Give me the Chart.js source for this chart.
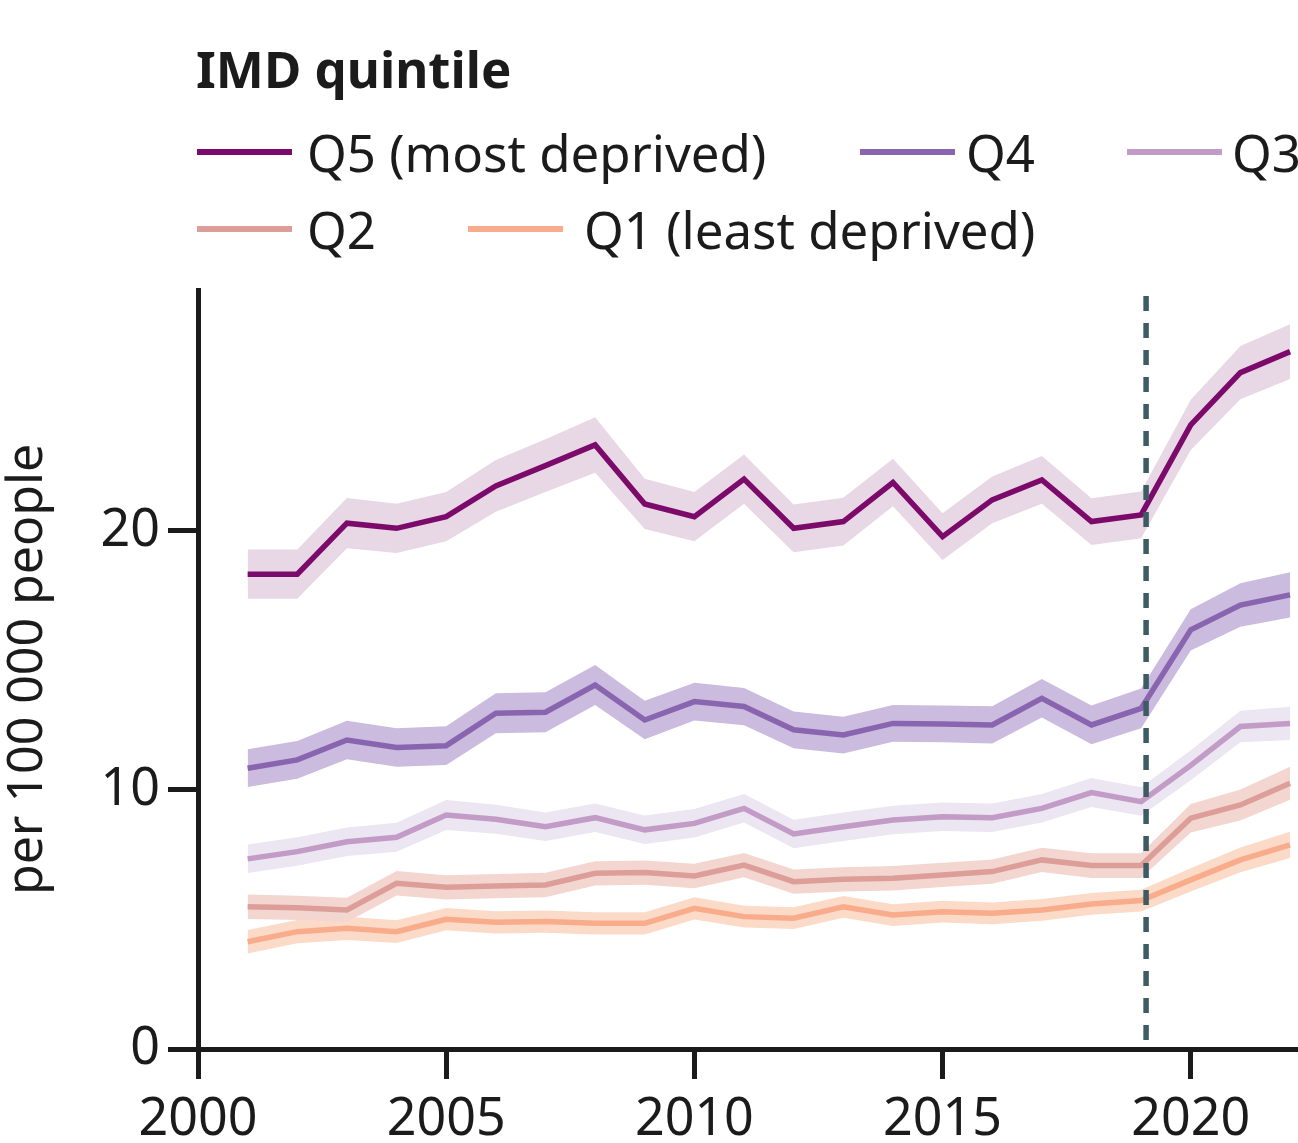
<!DOCTYPE html>
<html>
<head>
<meta charset="utf-8">
<title>IMD quintile</title>
<script src="https://cdn.jsdelivr.net/npm/chart.js@4.4.1/dist/chart.umd.min.js"></script>
<style>
    html, body { margin: 0; padding: 0; background: #fff; }
    #wrap { position: relative; width: 1298px; height: 1143px; }
</style>
</head>
<body>
<div id="wrap"><canvas id="chart"></canvas></div>
<script>
// Values (per 100 000 people)
const years = [2001, 2002, 2003, 2004, 2005, 2006, 2007, 2008, 2009, 2010, 2011,
               2012, 2013, 2014, 2015, 2016, 2017, 2018, 2019, 2020, 2021, 2022];

const q5 = [18.33, 18.33, 20.3, 20.1, 20.55, 21.74, 22.52, 23.32, 21.04, 20.55, 22.0,
            20.1, 20.36, 21.87, 19.78, 21.2, 21.97, 20.36, 20.62, 24.09, 26.11, 26.92];
const q4 = [10.84, 11.16, 11.93, 11.64, 11.71, 12.96, 13.0, 14.05, 12.7, 13.41, 13.22,
            12.32, 12.12, 12.57, 12.55, 12.51, 13.54, 12.51, 13.15, 16.18, 17.14, 17.53];
const q3 = [7.34, 7.62, 8.0, 8.17, 9.03, 8.87, 8.58, 8.93, 8.46, 8.71, 9.29,
            8.3, 8.58, 8.84, 8.97, 8.93, 9.29, 9.9, 9.55, 10.95, 12.45, 12.57];
const q2 = [5.49, 5.45, 5.37, 6.4, 6.24, 6.29, 6.33, 6.78, 6.81, 6.68, 7.1,
            6.46, 6.55, 6.59, 6.72, 6.85, 7.3, 7.08, 7.08, 8.91, 9.42, 10.26];
const q1 = [4.14, 4.53, 4.66, 4.53, 5.01, 4.89, 4.92, 4.85, 4.85, 5.43, 5.11,
            5.05, 5.49, 5.17, 5.3, 5.24, 5.37, 5.6, 5.73, 6.53, 7.3, 7.88];

// Half-width of the shaded interval round each line
const q5Ci = [0.95, 0.95, 0.97, 0.95, 0.95, 1.0, 1.02, 1.07, 0.97, 0.95, 0.95,
              0.92, 0.92, 0.92, 0.9, 0.9, 0.92, 0.9, 0.9, 0.97, 1.03, 1.06];
const q4Ci = [0.73, 0.73, 0.74, 0.74, 0.75, 0.77, 0.77, 0.77, 0.74, 0.73, 0.72,
              0.71, 0.71, 0.71, 0.71, 0.72, 0.74, 0.75, 0.77, 0.8, 0.84, 0.87];
const q3Ci = [0.55, 0.55, 0.55, 0.56, 0.58, 0.56, 0.55, 0.55, 0.55, 0.55, 0.55,
              0.55, 0.55, 0.55, 0.55, 0.55, 0.55, 0.56, 0.55, 0.58, 0.61, 0.64];
const q2Ci = [0.47, 0.47, 0.47, 0.47, 0.47, 0.47, 0.47, 0.47, 0.47, 0.47, 0.47,
              0.47, 0.47, 0.47, 0.47, 0.47, 0.47, 0.48, 0.48, 0.55, 0.6, 0.64];
const q1Ci = [0.45, 0.45, 0.45, 0.44, 0.43, 0.43, 0.43, 0.43, 0.43, 0.43, 0.42,
              0.42, 0.42, 0.42, 0.42, 0.42, 0.42, 0.42, 0.42, 0.45, 0.48, 0.51];

const quintileLabels = ['Q5 (most deprived)', 'Q4', 'Q3', 'Q2', 'Q1 (least deprived)'];
const legendTitle = 'IMD quintile';
const yTitle = 'per 100 000 people';
const xTicks = [2000, 2005, 2010, 2015, 2020];
const yTicks = [0, 10, 20];
const dashedLineX = 2019.1;

const ink = '#1b1b1b';
const lineColours = ['#7b0a6b', '#8a65af', '#c29bc6', '#dd9e99', '#f8ac8b'];
const bandColours = ['#e8d7e5', '#cbbbdf', '#ebe6f2', '#f4d6d1', '#fcdac8'];
const FONT = "'Noto Sans', 'DejaVu Sans', sans-serif";

Chart.defaults.font.family = FONT;
Chart.defaults.color = ink;

const series = [q5, q4, q3, q2, q1];
const cis = [q5Ci, q4Ci, q3Ci, q2Ci, q1Ci];

const toPoints = arr => years.map((x, i) => ({ x: x, y: arr[i] }));

const datasets = [];
series.forEach((vals, s) => {
    const lower = vals.map((v, i) => v - cis[s][i]);
    const upper = vals.map((v, i) => v + cis[s][i]);
    datasets.push({
        label: quintileLabels[s] + ' lower',
        data: toPoints(lower),
        borderWidth: 0,
        pointRadius: 0,
        fill: false,
        order: 3
    });
    datasets.push({
        label: quintileLabels[s] + ' upper',
        data: toPoints(upper),
        borderWidth: 0,
        pointRadius: 0,
        backgroundColor: bandColours[s],
        fill: '-1',
        order: 3
    });
});
series.forEach((vals, s) => {
    datasets.push({
        label: quintileLabels[s],
        data: toPoints(vals),
        borderColor: lineColours[s],
        borderWidth: 5.5,
        borderJoinStyle: 'miter',
        pointRadius: 0,
        fill: false,
        order: 2
    });
});
// vertical dashed marker
datasets.push({
    label: 'marker',
    data: [{ x: dashedLineX, y: 0.35 }, { x: dashedLineX, y: 29.3 }],
    borderColor: '#3d5b62',
    borderWidth: 5.5,
    borderDash: [15, 12],
    borderCapStyle: 'butt',
    pointRadius: 0,
    fill: false,
    order: 1
});

// Legend drawn by hand so the rows match the figure
const imdLegend = {
    id: 'imdLegend',
    afterDraw(chart) {
        const ctx = chart.ctx;
        // [sample x, text x, row y]
        const slots = [[197, 307, 152], [860, 966, 152], [1127, 1232, 152],
                       [197, 307, 229], [468, 584, 229]];
        ctx.save();
        ctx.fillStyle = ink;
        ctx.textBaseline = 'alphabetic';
        ctx.textAlign = 'left';
        ctx.font = 'bold 51px ' + FONT;
        ctx.fillText(legendTitle, 196, 88);
        ctx.font = '51px ' + FONT;
        quintileLabels.forEach((label, i) => {
            const [sx, tx, y] = slots[i];
            ctx.strokeStyle = lineColours[i];
            ctx.lineWidth = 6;
            ctx.beginPath();
            ctx.moveTo(sx, y);
            ctx.lineTo(sx + 95, y);
            ctx.stroke();
            ctx.fillText(label, tx, y + 20);
        });
        ctx.restore();
    }
};

new Chart(document.getElementById('chart'), {
    type: 'line',
    data: { datasets: datasets },
    options: {
        responsive: true,
        maintainAspectRatio: false,
        animation: false,
        layout: { padding: { top: 290, right: 3, left: 0, bottom: 0 } },
        plugins: {
            legend: { display: false },
            tooltip: { enabled: false }
        },
        scales: {
            x: {
                type: 'linear',
                min: 2000,
                max: 2022.1,
                afterBuildTicks: scale => { scale.ticks = xTicks.map(v => ({ value: v })); },
                afterFit: scale => { scale.height = 94; },
                border: { display: true, color: ink, width: 5 },
                grid: { drawOnChartArea: false, drawTicks: true, tickLength: 30, lineWidth: 5, color: ink },
                ticks: {
                    callback: v => String(v),
                    font: { size: 52 },
                    color: ink,
                    padding: 10,
                    maxRotation: 0,
                    autoSkip: false
                }
            },
            y: {
                min: 0,
                max: 29.3,
                afterBuildTicks: scale => { scale.ticks = yTicks.map(v => ({ value: v })); },
                afterFit: scale => { scale.width = 198; },
                border: { display: true, color: ink, width: 5 },
                grid: { drawOnChartArea: false, drawTicks: true, tickLength: 30, lineWidth: 5, color: ink },
                ticks: {
                    font: { size: 52 },
                    color: ink,
                    padding: 8
                },
                title: {
                    display: true,
                    text: yTitle,
                    font: { size: 50, lineHeight: 1.1 },
                    color: ink,
                    padding: 0
                }
            }
        }
    },
    plugins: [imdLegend]
});
</script>
</body>
</html>
